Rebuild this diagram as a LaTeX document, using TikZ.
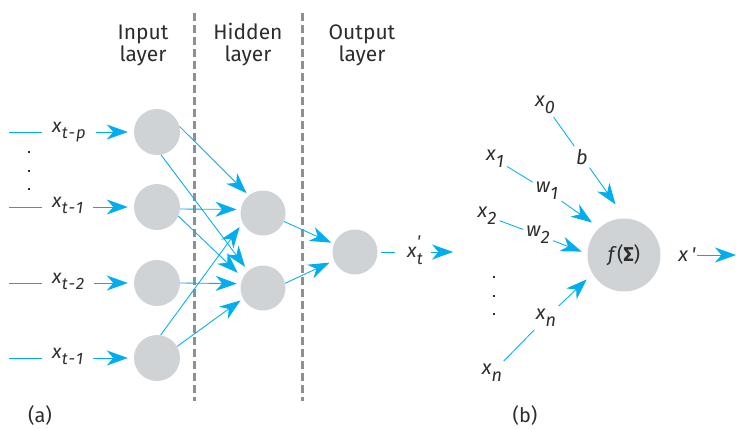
\documentclass[tikz,border=0pt]{standalone}
\usepackage{fontspec}
\setmainfont{Fira Sans}
\usetikzlibrary{arrows.meta}
\definecolor{cy}{RGB}{0,174,239}
\definecolor{nodegray}{RGB}{207,211,214}
\definecolor{dashgray}{RGB}{140,145,150}
\definecolor{txt}{RGB}{45,45,45}
\newcommand\xsa[2]{\textit{#1}\raisebox{-6pt}{\fontsize{16.5}{17}\selectfont\textit{#2}}}
\newcommand\xsb[2]{\textit{#1}\raisebox{-7pt}{\fontsize{18}{18}\selectfont\textit{#2}}}
\begin{document}
\begin{tikzpicture}[x=1pt,y=-1pt,
  neuron/.style={circle,fill=nodegray,inner sep=0pt,minimum size=46pt},
  hid/.style={neuron,minimum size=45pt},
  big/.style={neuron,minimum size=73pt},
  lay/.style={align=center,font=\fontsize{21}{22}\selectfont,text=txt},
  vara/.style={font=\fontsize{19.5}{21}\selectfont,text=txt,inner sep=0pt},
  varb/.style={font=\fontsize{20}{22}\selectfont,text=txt,inner sep=3pt},
  conn/.style={draw=cy,line width=0.85pt},
  arr/.style={conn,-{Stealth[length=21pt,width=15pt,inset=6.5pt]}},
  sepline/.style={draw=dashgray,line width=2.6pt,dash pattern=on 8pt off 4pt},
  dotn/.style={fill=txt,inner sep=0pt,minimum size=2.2pt},
]
\useasboundingbox (0,0) rectangle (736,429);

% separators
\draw[sepline] (194.5,13) -- (194.5,401);
\draw[sepline] (302.5,13) -- (302.5,401);

% layer labels
\node[lay] (tin) at (143,45) {Input\\layer};
\node[lay] (thid) at (248,45) {Hidden\\layer};
\node[lay] (tout) at (362,45) {Output\\layer};

% neurons
\node[neuron] (i1) at (157,132) {};
\node[neuron] (i2) at (157,207) {};
\node[neuron] (i3) at (157,283) {};
\node[neuron] (i4) at (157,358) {};
\node[hid] (h1) at (263,213) {};
\node[hid] (h2) at (263,288) {};
\node[hid] (o) at (355,252) {};

% input labels
\node[vara,anchor=base west] (l1) at (52,132) {\xsa{x}{t\kern1pt-\kern1pt p}};
\node[vara,anchor=base west] (l2) at (52,207) {\xsa{x}{t\kern1pt-\kern1pt 1}};
\node[vara,anchor=base west] (l3) at (52,283) {\xsa{x}{t\kern1pt-\kern1pt 2}};
\node[vara,anchor=base west] (l4) at (52,358) {\xsa{x}{t\kern1pt-\kern1pt 1}};
\coordinate (s1) at (9,132);
\coordinate (s2) at (9,207);
\coordinate (s3) at (9,283);
\coordinate (s4) at (9,358);
\foreach \k in {1,2,3,4}{
  \draw[conn,shorten >=10pt] (s\k) -- (s\k -| l\k.west);
  \draw[arr,shorten <=10pt,shorten >=6pt] (l\k.east |- i\k) -- (i\k);
}
\node[dotn] (d1) at (29,152) {};
\node[dotn] (d2) at (29,171) {};
\node[dotn] (d3) at (29,189) {};

% input -> hidden
\draw[arr,shorten >=3pt] (i1.14) -- (h1.129);
\draw[arr,shorten >=5pt] (i1.-80) -- (h2.131);
\draw[arr,shorten >=4pt] (i2.-5) -- (h1.171);
\draw[arr,shorten >=7pt] (i2.-23) -- (h2.153);
\draw[arr,shorten >=4pt] (i3.east) -- (h2.169);
\draw[arr,shorten >=5pt] (i4.81) -- (h1.206);
\draw[arr,shorten >=3pt] (i4.30) -- (h2.208);
% hidden -> output
\draw[arr,shorten >=3pt] (h1.-22) -- (o.159);
\draw[arr,shorten >=5pt] (h2.12) -- (o.202);

% output label
\node[vara,anchor=base west] (xt) at (407,257) {\textit{x}\makebox[0pt][l]{\raisebox{9.5pt}{\fontsize{17}{17}\selectfont\textit{\textquotesingle}}}\raisebox{-7pt}{\fontsize{16.5}{17}\selectfont\textit{t}}};
\coordinate (oe) at (453,252);
\draw[conn,shorten <=3pt,shorten >=12pt] (o.east) -- (o.east -| xt.west);
\draw[arr,shorten <=8pt] (xt.east |- o) -- (oe);

\node[font=\fontsize{20}{22}\selectfont,text=txt] (ta) at (40,415) {(a)};

% ---------- (b) ----------
\node[big] (f) at (624,255) {};
\node[font=\fontsize{20}{22}\selectfont,text=txt] (flab) at (f) {\textit{f}(\textbf{Σ})};

\node[varb] (x0) at (545,105) {\xsb{x}{0}};
\node[varb] (b) at (582,157) {\textit{b}};
\node[varb] (x1) at (495,159) {\xsb{x}{1}};
\node[varb] (w1) at (547,191) {\xsb{w}{1}};
\node[varb] (x2) at (487,216) {\xsb{x}{2}};
\node[varb] (w2) at (538,235) {\xsb{w}{2}};
\node[varb] (xnm) at (546,318) {\xsb{x}{n}};
\node[varb] (xnb) at (492,373) {\xsb{x}{n}};
\node[varb,inner sep=1pt] (xp) at (687,255) {\textit{x\,\textquotesingle}};
\coordinate (fe) at (736,255);

\draw[conn] (x0) -- (b);
\draw[arr,shorten >=17pt] (b) -- (f.88);
\draw[conn] (x1) -- (w1);
\draw[arr,shorten >=9pt] (w1) -- (f.132);
\draw[conn] (x2) -- (w2);
\draw[arr,shorten >=6pt] (w2) -- (f.178);
\draw[conn] (xnb) -- (xnm);
\draw[arr,shorten >=8pt] (xnm) -- (f.211);
\draw[arr] (xp) -- (fe);

\node[dotn] (e1) at (494,277) {};
\node[dotn] (e2) at (494,296) {};
\node[dotn] (e3) at (494,314) {};

\node[font=\fontsize{20}{22}\selectfont,text=txt] (tb) at (525,415) {(b)};
\end{tikzpicture}
\end{document}
